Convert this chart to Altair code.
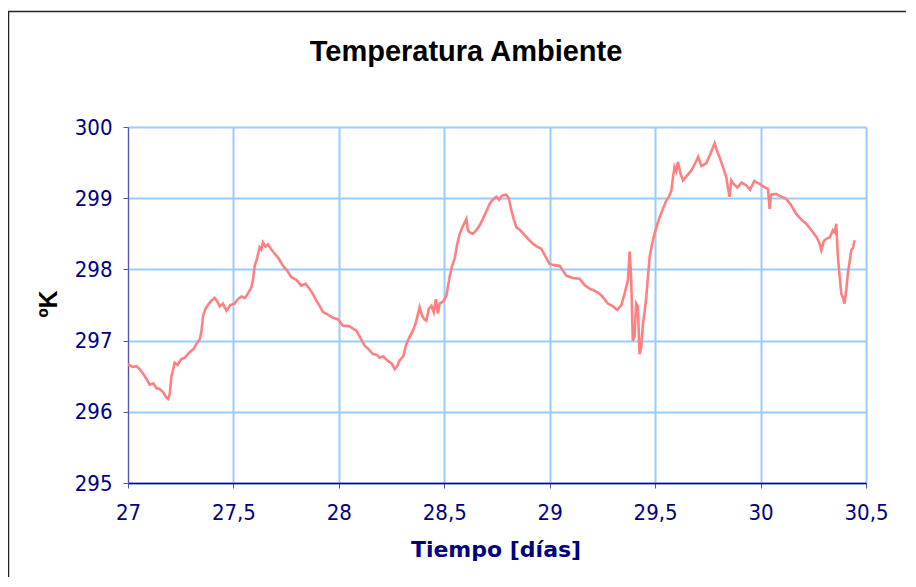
import altair as alt
import pandas as pd

# Time in days and ambient temperature in Kelvin
days = [
    27.000, 27.020, 27.040, 27.055, 27.075, 27.090, 27.103, 27.120, 27.135, 27.150,
    27.165, 27.182, 27.190, 27.198, 27.206, 27.213, 27.221, 27.235, 27.253, 27.270,
    27.293, 27.310, 27.324, 27.340, 27.348, 27.356, 27.368, 27.379, 27.395, 27.411,
    27.423, 27.435, 27.450, 27.467, 27.485, 27.506, 27.520, 27.538, 27.555, 27.569,
    27.585, 27.593, 27.601, 27.612, 27.624, 27.632, 27.640, 27.652, 27.664, 27.680,
    27.696, 27.715, 27.735, 27.755, 27.775, 27.800, 27.822, 27.842, 27.862, 27.878,
    27.893, 27.910, 27.925, 27.950, 27.972, 27.995, 28.019, 28.050, 28.083, 28.100,
    28.122, 28.140, 28.162, 28.180, 28.193, 28.209, 28.230, 28.250, 28.265, 28.278,
    28.288, 28.305, 28.320, 28.335, 28.351, 28.365, 28.383, 28.395, 28.405, 28.415,
    28.427, 28.439, 28.450, 28.460, 28.470, 28.478, 28.495, 28.510, 28.525, 28.537,
    28.549, 28.561, 28.573, 28.590, 28.605, 28.612, 28.620, 28.636, 28.652, 28.668,
    28.683, 28.700, 28.715, 28.730, 28.747, 28.760, 28.775, 28.794, 28.806, 28.818,
    28.830, 28.842, 28.860, 28.881, 28.900, 28.920, 28.940, 28.960, 28.980, 28.999,
    29.020, 29.047, 29.063, 29.079, 29.110, 29.142, 29.165, 29.189, 29.212, 29.236,
    29.255, 29.276, 29.300, 29.320, 29.340, 29.355, 29.371, 29.379, 29.386, 29.394,
    29.402, 29.410, 29.418, 29.426, 29.434, 29.442, 29.450, 29.458, 29.466, 29.474,
    29.485, 29.497, 29.509, 29.521, 29.537, 29.553, 29.565, 29.577, 29.585, 29.592,
    29.600, 29.608, 29.620, 29.632, 29.652, 29.672, 29.688, 29.704, 29.720, 29.742,
    29.762, 29.782, 29.795, 29.805, 29.820, 29.837, 29.845, 29.853, 29.861, 29.869,
    29.890, 29.910, 29.932, 29.950, 29.970, 29.995, 30.015, 30.035, 30.040, 30.043,
    30.050, 30.074, 30.098, 30.122, 30.145, 30.169, 30.193, 30.217, 30.241, 30.266,
    30.278, 30.288, 30.300, 30.312, 30.328, 30.343, 30.352, 30.359, 30.363, 30.367,
    30.375, 30.383, 30.391, 30.398, 30.406, 30.414, 30.422, 30.430, 30.438, 30.446,
]
temps = [
    296.67, 296.63, 296.64, 296.60, 296.52, 296.45, 296.38, 296.40, 296.33, 296.32,
    296.28, 296.20, 296.18, 296.25, 296.50, 296.58, 296.69, 296.66, 296.74, 296.76,
    296.84, 296.88, 296.95, 297.02, 297.12, 297.35, 297.45, 297.50, 297.56, 297.60,
    297.55, 297.48, 297.52, 297.42, 297.50, 297.52, 297.58, 297.62, 297.60, 297.66,
    297.75, 297.86, 298.05, 298.15, 298.31, 298.28, 298.38, 298.32, 298.35, 298.28,
    298.22, 298.15, 298.05, 297.98, 297.89, 297.85, 297.77, 297.80, 297.72, 297.65,
    297.56, 297.48, 297.40, 297.36, 297.32, 297.30, 297.21, 297.20, 297.14, 297.05,
    296.93, 296.88, 296.81, 296.80, 296.76, 296.78, 296.72, 296.68, 296.60, 296.65,
    296.72, 296.78, 296.95, 297.05, 297.14, 297.25, 297.47, 297.35, 297.30, 297.28,
    297.45, 297.49, 297.40, 297.58, 297.38, 297.52, 297.55, 297.63, 297.89, 298.05,
    298.15, 298.35, 298.50, 298.62, 298.71, 298.55, 298.52, 298.50, 298.55, 298.62,
    298.71, 298.82, 298.92, 298.98, 299.02, 298.98, 299.04, 299.05, 299.00, 298.83,
    298.70, 298.59, 298.55, 298.48, 298.42, 298.36, 298.32, 298.29, 298.18, 298.08,
    298.06, 298.05, 297.98, 297.91, 297.88, 297.87, 297.78, 297.73, 297.70, 297.66,
    297.60, 297.52, 297.48, 297.43, 297.50, 297.66, 297.85, 298.25, 297.90, 297.00,
    297.05, 297.52, 297.48, 296.81, 296.90, 297.23, 297.40, 297.61, 297.90, 298.17,
    298.35, 298.50, 298.62, 298.73, 298.85, 298.97, 299.02, 299.11, 299.30, 299.44,
    299.38, 299.51, 299.35, 299.25, 299.32, 299.39, 299.48, 299.58, 299.45, 299.49,
    299.62, 299.77, 299.65, 299.58, 299.45, 299.30, 299.15, 299.02, 299.25, 299.21,
    299.15, 299.22, 299.18, 299.12, 299.24, 299.20, 299.16, 299.13, 298.95, 298.85,
    299.05, 299.06, 299.02, 298.99, 298.90, 298.78, 298.70, 298.64, 298.55, 298.45,
    298.38, 298.27, 298.40, 298.43, 298.45, 298.55, 298.52, 298.64, 298.40, 298.17,
    297.90, 297.66, 297.60, 297.52, 297.70, 297.94, 298.10, 298.27, 298.30, 298.41,
]

x_ticks = [27, 27.5, 28, 28.5, 29, 29.5, 30, 30.5]
y_ticks = [295, 296, 297, 298, 299, 300]

title_text = "Temperatura Ambiente"
x_title = "Tiempo [días]"
y_title = "ºK"

W, H = 738, 356
NAVY = "#000080"
TICK_FONT = "DejaVu Sans Condensed, DejaVu Sans"

df = pd.DataFrame({"dia": days, "temp": temps})

line = alt.Chart(df).mark_line(
    color="#FF8080", strokeWidth=2.6, strokeJoin="miter", clip=True
).encode(
    x=alt.X(
        "dia:Q",
        scale=alt.Scale(domain=[27, 30.5], nice=False, zero=False),
        axis=alt.Axis(
            values=x_ticks,
            title=None,
            labelExpr="replace(toString(datum.value), '.', ',')",
            labelFont=TICK_FONT,
            labelFontSize=22,
            labelColor=NAVY,
            labelPadding=14,
            labelFlush=False,
            labelOverlap=False,
            grid=True,
            gridColor="#99CCFF",
            gridWidth=2,
            domainColor=NAVY,
            domainWidth=1.5,
            tickColor="#5555AA",
            tickSize=5,
            tickWidth=1,
        ),
    ),
    y=alt.Y(
        "temp:Q",
        scale=alt.Scale(domain=[295, 300], nice=False, zero=False),
        axis=alt.Axis(
            values=y_ticks,
            title=None,
            format="d",
            labelFont=TICK_FONT,
            labelFontSize=22,
            labelColor=NAVY,
            labelPadding=11,
            labelFlush=False,
            grid=True,
            gridColor="#99CCFF",
            gridWidth=2,
            domainColor="#5555AA",
            domainWidth=1,
            tickColor="#5555AA",
            tickSize=5,
            tickWidth=1,
        ),
    ),
)

one = pd.DataFrame({"k": [0]})

frame = alt.Chart(one).mark_rect(
    fillOpacity=0, stroke="#222222", strokeWidth=1.5
).encode(
    x=alt.value(-119.5), x2=alt.value(900),
    y=alt.value(-115.5), y2=alt.value(700),
)

title_mark = alt.Chart(pd.DataFrame({"t": [title_text]})).mark_text(
    font="Liberation Sans", fontWeight="bold", fontSize=29, color="black",
    align="center", baseline="alphabetic",
).encode(text="t:N", x=alt.value(338), y=alt.value(-66))

xtitle_mark = alt.Chart(pd.DataFrame({"t": [x_title]})).mark_text(
    font="DejaVu Sans", fontWeight="bold", fontSize=22, color=NAVY,
    align="center", baseline="alphabetic",
).encode(text="t:N", x=alt.value(368), y=alt.value(430))

ytitle_mark = alt.Chart(pd.DataFrame({"t": [y_title]})).mark_text(
    font="Liberation Sans", fontWeight="bold", fontSize=25, color="black",
    align="center", baseline="alphabetic", angle=270,
).encode(text="t:N", x=alt.value(-71), y=alt.value(177))

chart = alt.layer(frame, line, title_mark, xtitle_mark, ytitle_mark).properties(
    width=W,
    height=H,
    autosize=alt.AutoSizeParams(type="none"),
    padding={"left": 120, "top": 119, "right": 40, "bottom": 94},
).configure_view(stroke=None).configure(background="white")

chart.save("out.html", embed_options={"renderer": "svg", "actions": False})
